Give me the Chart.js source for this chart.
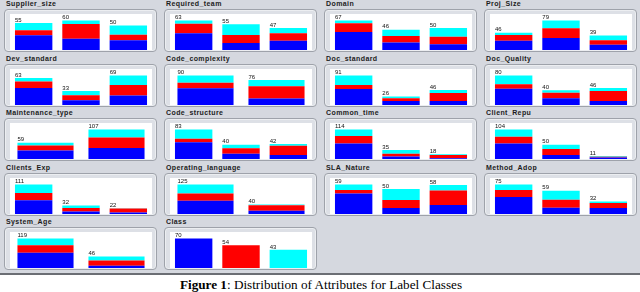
<!DOCTYPE html>
<html>
<head>
<meta charset="utf-8">
<script src="https://cdn.jsdelivr.net/npm/chart.js@4"></script>
<style>
  html, body { margin: 0; padding: 0; background: #fff; }
  #page { position: relative; width: 640px; height: 292px; overflow: hidden; background: #fff; }
  #grey { position: absolute; left: 0; top: 0; width: 640px; height: 273px; background: #d5d8df; border-bottom: 2px solid #6b6e74; }
  .title { position: absolute; font: bold 7px "Liberation Sans", Arial, sans-serif; letter-spacing: 0.4px; color: #1c1c1c; white-space: nowrap; }
  .box { position: absolute; width: 151px; height: 41px; border: 1px solid #9ea2aa; border-radius: 4px; background: #dde0e6; box-shadow: inset 0 0 0 1px #eceef1; }
  canvas { position: absolute; background: #fff; }
  #caption { position: absolute; left: 0; top: 277px; width: 642px; text-align: center; font: 13.2px "Liberation Serif", "Times New Roman", serif; color: #000; }
</style>
</head>
<body>
<div id="page">
  <div id="grey"></div>
  <div id="caption"><b>Figure 1</b>: Distribution of Attributes for Label Classes</div>
</div>
<script>
const attributes = [
    "Supplier_size", "Required_team", "Domain", "Proj_Size",
    "Dev_standard", "Code_complexity", "Doc_standard", "Doc_Quality",
    "Maintenance_type", "Code_structure", "Common_time", "Client_Repu",
    "Clients_Exp", "Operating_language", "SLA_Nature", "Method_Adop",
    "System_Age", "Class"
];

// counts per attribute value, split by label class
const blueCounts = [
    [30, 23, 20], [36, 15, 20], [41, 17, 13], [25, 32, 14],
    [40, 11, 22], [51, 20], [49, 12, 12], [44, 18, 11],
    [31, 40], [47, 15, 11], [60, 10, 3], [55, 14, 5],
    [52, 9, 6], [56, 14], [41, 12, 18], [43, 16, 15],
    [61, 9], [70, 0, 0]
];
const redCounts = [
    [10, 30, 11], [20, 17, 16], [20, 15, 17], [15, 26, 12],
    [15, 12, 25], [17, 37], [13, 9, 25], [12, 15, 27],
    [18, 38], [10, 15, 26], [29, 10, 12], [23, 21, 3],
    [27, 14, 15], [31, 23], [7, 16, 29], [18, 20, 13],
    [31, 21], [0, 54, 0]
];
const cyanCounts = [
    [15, 7, 19], [7, 23, 11], [6, 14, 20], [6, 21, 13],
    [8, 10, 22], [22, 19], [29, 5, 9], [24, 7, 8],
    [10, 29], [26, 10, 5], [25, 15, 3], [26, 15, 3],
    [32, 9, 1], [38, 3], [11, 22, 11], [14, 23, 4],
    [27, 16], [0, 0, 43]
];
const classNames = ["Class 1", "Class 2", "Class 3"];

const colours = ['rgb(0, 0, 255)', 'rgb(255, 0, 0)', 'rgb(0, 255, 255)'];
const colX = [4, 164, 324, 484];
const rowY = [9, 64, 118, 173, 227];

const countLabels = {
    id: 'countLabels',
    afterDatasetsDraw(chart) {
        const ctx = chart.ctx;
        const meta = chart.getDatasetMeta(0);
        const n = chart.data.labels.length;
        ctx.save();
        ctx.font = '6px "Liberation Sans", Arial, sans-serif';
        ctx.fillStyle = '#111';
        ctx.textAlign = 'left';
        ctx.textBaseline = 'bottom';
        for (let i = 0; i < n; i++) {
            let total = 0;
            chart.data.datasets.forEach(ds => total += ds.data[i]);
            const bar = meta.data[i];
            const x = chart.scales.x.getPixelForValue(i) - bar.width / 2;
            const y = chart.scales.y.getPixelForValue(total);
            ctx.fillText(String(total), x, y);
        }
        ctx.restore();
    }
};

const page = document.getElementById("page");

attributes.forEach((name, k) => {
    const col = k % 4;
    const row = Math.floor(k / 4);
    const left = colX[col];
    const top = rowY[row];

    const title = document.createElement("div");
    title.className = "title";
    title.style.left = (left + 2) + "px";
    title.style.top = (top - 9) + "px";
    title.textContent = name;
    page.appendChild(title);

    const box = document.createElement("div");
    box.className = "box";
    box.style.left = left + "px";
    box.style.top = top + "px";
    page.appendChild(box);

    const canvas = document.createElement("canvas");
    canvas.width = 142;
    canvas.height = 36;
    canvas.style.left = (left + 6) + "px";
    canvas.style.top = (top + 5) + "px";
    page.appendChild(canvas);

    const n = blueCounts[k].length;
    const labels = blueCounts[k].map((_, i) => name + " " + (i + 1));
    let maxTotal = 0;
    for (let i = 0; i < n; i++) {
        maxTotal = Math.max(maxTotal, blueCounts[k][i] + redCounts[k][i] + cyanCounts[k][i]);
    }

    new Chart(canvas, {
        type: 'bar',
        data: {
            labels: labels,
            datasets: [blueCounts[k], redCounts[k], cyanCounts[k]].map((d, j) => ({
                label: classNames[j],
                data: d,
                backgroundColor: colours[j],
                borderWidth: 0,
                categoryPercentage: 1,
                barPercentage: 0.79
            }))
        },
        options: {
            responsive: false,
            animation: false,
            devicePixelRatio: 1,
            layout: { padding: 0 },
            plugins: { legend: { display: false }, tooltip: { enabled: false } },
            scales: {
                x: { stacked: true, display: false },
                y: { stacked: true, display: false, min: 0, max: maxTotal * 1.22 }
            }
        },
        plugins: [countLabels]
    });
});
</script>
</body>
</html>
